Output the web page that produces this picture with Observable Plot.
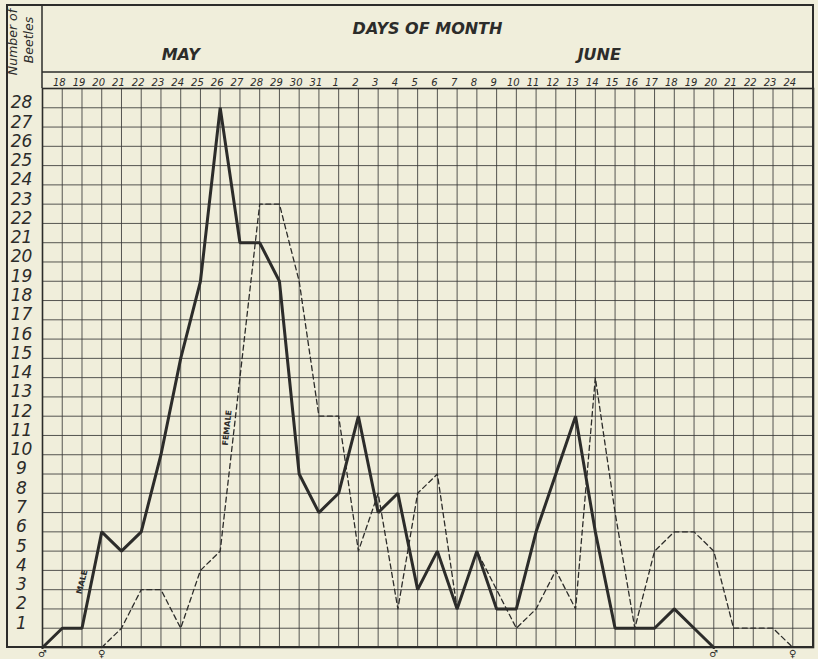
<!DOCTYPE html>
<html><head><meta charset="utf-8">
<script src="https://cdn.jsdelivr.net/npm/d3@7"></script>
<script src="https://cdn.jsdelivr.net/npm/@observablehq/plot@0.6"></script>
<style>
html,body{margin:0;padding:0;background:#f0eedb;}
#chart svg{display:block;}
</style></head><body><div id="chart"></div>
<script>
// Day index 0 = May 17 (axis origin), 1 = May 18 ... 38 = June 24
const dayLabels = ["17","18","19","20","21","22","23","24","25","26","27","28","29","30","31",
  "1","2","3","4","5","6","7","8","9","10","11","12","13","14","15","16","17","18","19","20","21","22","23","24"];
// Male counts, May 17 .. June 20
const maleCounts = [0,1,1,6,5,6,10,15,19,28,21,21,19,9,7,8,12,7,8,3,5,2,5,2,2,6,9,12,6,1,1,1,2,1,0];
const maleStart = 0;
// Female counts, May 20 .. June 24
const femaleCounts = [0,1,3,3,1,4,5,14,23,23,19,12,12,5,8,2,8,9,2,5,3,1,2,4,2,14,7,1,5,6,6,5,1,1,1,0];
const femaleStart = 3;
const yTicks = d3.range(1, 29);
const months = ["MAY", "JUNE"];
const monthAt = [7.0, 28.2];
const seriesNames = ["MALE", "FEMALE"];
const seriesLabelAt = [[2.0, 3.4], [9.35, 11.4]];
const seriesLabelAngle = [-76, -84];
const yTitle = ["Number of", "Beetles"];

const ink = "#2c2c2a";
const maleData = maleCounts.map((v, k) => ({i: maleStart + k, v}));
const femaleData = femaleCounts.map((v, k) => ({i: femaleStart + k, v}));
const ends = [
  {i: maleStart, s: "\u2642"}, {i: maleStart + maleCounts.length - 1, s: "\u2642"},
  {i: femaleStart, s: "\u2640"}, {i: femaleStart + femaleCounts.length - 1, s: "\u2640"}
];
const font = "DejaVu Sans, sans-serif";

const plot = Plot.plot({
  width: 818, height: 659,
  marginLeft: 42, marginTop: 88, marginRight: 5, marginBottom: 12,
  style: {background: "#f0eedb", color: ink, fontFamily: font},
  x: {domain: [0, 39.05]},
  y: {domain: [0, 29]},
  marks: [
    Plot.gridX(d3.range(0, 39), {stroke: "#3a3a38", strokeOpacity: 0.85, strokeWidth: 1}),
    Plot.gridY(d3.range(0, 30), {stroke: "#3a3a38", strokeOpacity: 0.85, strokeWidth: 1}),
    Plot.axisY(yTicks, {anchor: "left", tickSize: 0, tickPadding: 21, textAnchor: "middle",
      fontSize: 17, fontStyle: "italic", dy: -5, fill: ink, label: null}),
    Plot.axisX(d3.range(1, 39), {anchor: "top", tickSize: 0, tickPadding: 3,
      tickFormat: i => dayLabels[i], fontSize: 10, fontStyle: "italic", dx: -3, fill: ink, label: null}),
    Plot.line(femaleData, {x: "i", y: "v", stroke: ink, strokeWidth: 1.3, strokeDasharray: "5,3.5"}),
    Plot.line(maleData, {x: "i", y: "v", stroke: ink, strokeWidth: 3, strokeLinejoin: "miter"}),
    Plot.text(ends, {x: "i", y: 0, text: "s", dy: 6, fontSize: 10, fill: ink}),
    Plot.text(seriesNames, {x: (d, k) => seriesLabelAt[k][0], y: (d, k) => seriesLabelAt[k][1],
      text: d => d, rotate: (d, k) => seriesLabelAngle[k], fontSize: 8, fontWeight: "bold", fill: ink}),
    Plot.text(["DAYS OF MONTH"], {x: 19.5, frameAnchor: "top", dy: -66, fontSize: 16,
      fontWeight: "bold", fontStyle: "italic", fill: ink, text: d => d}),
    Plot.text(months, {x: (d, k) => monthAt[k], frameAnchor: "top", dy: -40, fontSize: 16,
      fontWeight: "bold", fontStyle: "italic", fill: ink, text: d => d}),
    Plot.frame({stroke: ink, strokeWidth: 1.6})
  ]
});

const svg = d3.select(plot);
// rotated y title in the left header cell
svg.append("g").selectAll("text").data(yTitle).join("text")
  .attr("transform", (d, k) => `translate(${k === 0 ? 17 : 33},${k === 0 ? 42 : 40}) rotate(-90)`)
  .attr("text-anchor", "middle").attr("font-size", 12.5).attr("font-style", "italic")
  .attr("font-family", font).attr("fill", ink).text(d => d);
// outer border and header rules
svg.append("rect").attr("x", 7).attr("y", 5).attr("width", 806).attr("height", 642)
  .attr("fill", "none").attr("stroke", ink).attr("stroke-width", 2);
svg.append("line").attr("x1", 42).attr("x2", 42).attr("y1", 5).attr("y2", 88)
  .attr("stroke", ink).attr("stroke-width", 1.5);
svg.append("line").attr("x1", 42).attr("x2", 813).attr("y1", 72).attr("y2", 72)
  .attr("stroke", ink).attr("stroke-width", 1.5);
document.getElementById("chart").appendChild(plot);
</script></body></html>
